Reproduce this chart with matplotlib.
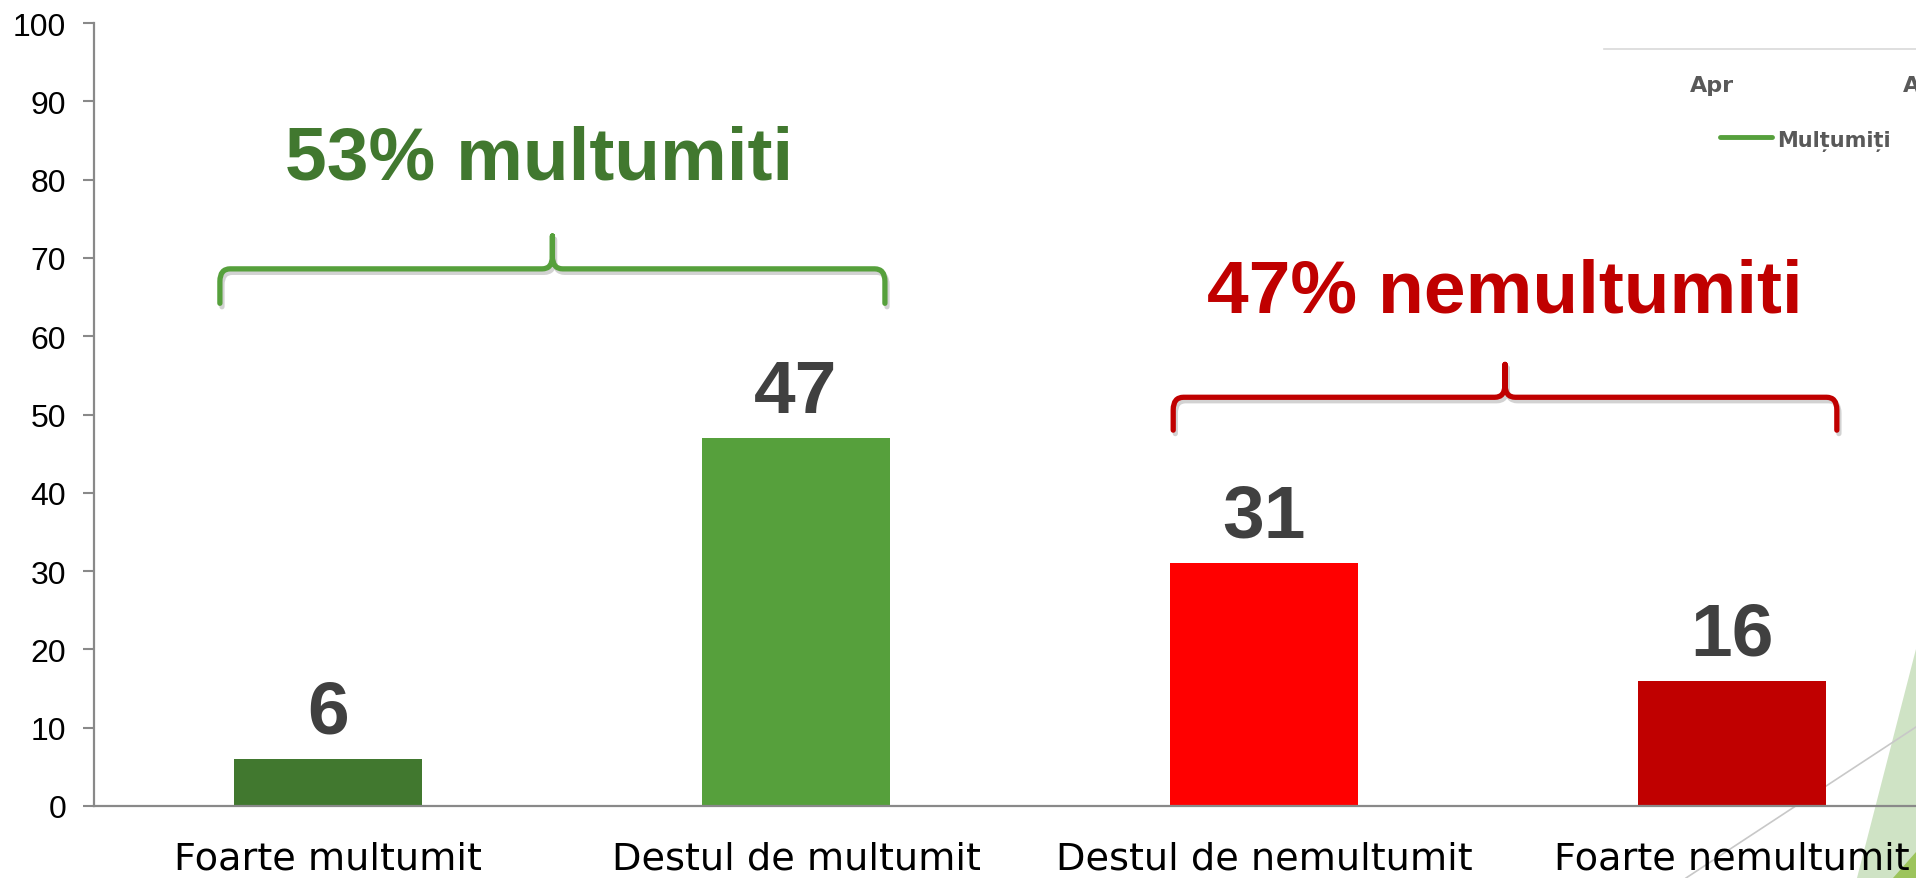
import matplotlib
matplotlib.use("Agg")
import matplotlib.pyplot as plt
from matplotlib.path import Path
from matplotlib.patches import PathPatch, Polygon
from matplotlib.lines import Line2D
import matplotlib.patheffects as pe

# ---- data ----
categories = ["Foarte multumit", "Destul de multumit", "Destul de nemultumit", "Foarte nemultumit"]
values = [6, 47, 31, 16]
bar_colors = ["#41782f", "#56a03c", "#ff0000", "#c00000"]
group_labels = ["53% multumiti", "47% nemultumiti"]
yticks = list(range(0, 101, 10))

W, H = 1916, 879
fig = plt.figure(figsize=(W / 100, H / 100), dpi=100, facecolor="white")
ax = fig.add_axes([94 / W, 72 / H, 1 - 94 / W, (807 - 24) / H])
ax.patch.set_alpha(0)

x = list(range(len(categories)))
ax.bar(x, values, width=0.4, color=bar_colors, zorder=2)
ax.set_xlim(-0.5, -0.5 + (W - 94) / 468)
ax.set_ylim(0, 100)

ax.set_yticks(yticks)
ax.set_yticklabels([str(t) for t in yticks], fontfamily="Liberation Sans", fontsize=23, color="black")
ax.tick_params(axis="y", direction="out", length=8, width=1.5, color="#898989", pad=12)
ax.set_xticks(x)
ax.set_xticklabels(categories, fontfamily="DejaVu Sans", fontsize=27.5, color="black")
ax.tick_params(axis="x", length=0, pad=25)

for s in ["top", "right"]:
    ax.spines[s].set_visible(False)
for s in ["left", "bottom"]:
    ax.spines[s].set_color("#898989")
    ax.spines[s].set_linewidth(1.6)

for i, v in enumerate(values):
    ax.annotate(str(v), xy=(i, v), xytext=(0, 19), textcoords="offset points",
                ha="center", va="baseline", fontsize=54, fontweight="bold",
                fontfamily="Liberation Sans", color="#404040")

# group headings
ax.text(0.451, 80.2, group_labels[0], ha="center", va="baseline", fontsize=54,
        fontweight="bold", fontfamily="Liberation Sans", color="#41782f")
ax.text(2.515, 63.2, group_labels[1], ha="center", va="baseline", fontsize=54,
        fontweight="bold", fontfamily="Liberation Sans", color="#c00000")

# curly brackets
def bracket(x0, x1, yh, yt, ye, color):
    xm = (x0 + x1) / 2
    rx, ry = 0.022, 1.6
    verts = [
        (x0, ye), (x0, yh - ry),
        (x0, yh), (x0 + rx, yh),
        (xm - rx, yh),
        (xm, yh), (xm, yh + ry),
        (xm, yt),
        (xm, yh + ry),
        (xm, yh), (xm + rx, yh),
        (x1 - rx, yh),
        (x1, yh), (x1, yh - ry),
        (x1, ye),
    ]
    codes = [Path.MOVETO, Path.LINETO,
             Path.CURVE3, Path.CURVE3,
             Path.LINETO,
             Path.CURVE3, Path.CURVE3,
             Path.LINETO,
             Path.LINETO,
             Path.CURVE3, Path.CURVE3,
             Path.LINETO,
             Path.CURVE3, Path.CURVE3,
             Path.LINETO]
    p = PathPatch(Path(verts, codes), fill=False, edgecolor=color, linewidth=3.8,
                  capstyle="round", joinstyle="round", zorder=3,
                  path_effects=[pe.SimpleLineShadow(offset=(1.5, -2.5), shadow_color="gray", alpha=0.35),
                                pe.Normal()])
    ax.add_patch(p)

bracket(-0.231, 1.190, 68.6, 72.8, 64.2, "#56a03c")
bracket(1.806, 3.224, 52.2, 56.4, 48.0, "#c00000")

# background slide decorations (figure pixel coordinates)
def fx(px):
    return px / W

def fy(py):
    return 1 - py / H

fig.add_artist(Polygon([(fx(1916), fy(650)), (fx(1857), fy(879)), (fx(1916), fy(879))],
                       closed=True, facecolor="#cfe3c5", edgecolor="none",
                       transform=fig.transFigure, zorder=-2))
fig.add_artist(Polygon([(fx(1916), fy(853)), (fx(1893), fy(879)), (fx(1916), fy(879))],
                       closed=True, facecolor="#9cc45c", edgecolor="none",
                       transform=fig.transFigure, zorder=-1.5))
fig.add_artist(Line2D([fx(1686), fx(1916)], [fy(879), fy(728)], color="#c8c8c8",
                      linewidth=1.2, transform=fig.transFigure, zorder=-1))

# fragment of another chart at top right
fig.add_artist(Line2D([fx(1604), fx(1916)], [fy(50), fy(50)], color="#d9d9d9",
                      linewidth=1.2, transform=fig.transFigure, zorder=-1))
fig.text(fx(1712), fy(92), "Apr", ha="center", va="baseline", fontsize=16,
         fontweight="bold", fontfamily="DejaVu Sans", color="#595959")
fig.text(fx(1903), fy(92), "A", ha="left", va="baseline", fontsize=16,
         fontweight="bold", fontfamily="DejaVu Sans", color="#595959")
fig.add_artist(Line2D([fx(1720), fx(1772)], [fy(138), fy(138)], color="#56a03c",
                      linewidth=3.5, solid_capstyle="round", transform=fig.transFigure))
fig.text(fx(1777), fy(147), "Mulțumiți", ha="left", va="baseline", fontsize=15,
         fontweight="bold", fontfamily="DejaVu Sans", color="#595959")

fig.savefig("out.png", dpi=100, facecolor="white")
